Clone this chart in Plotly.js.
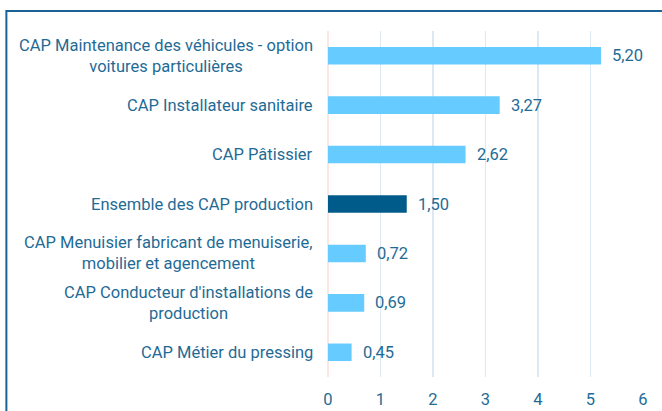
<!DOCTYPE html>
<html>
<head>
<meta charset="utf-8">
<script src="https://cdn.plot.ly/plotly-3.0.1.min.js"></script>
<style>
html,body{margin:0;padding:0;background:#fff;overflow:hidden;}
#chart{width:662px;height:411px;}
</style>
</head>
<body>
<div id="chart"></div>
<script>
const categories = [
  "CAP Maintenance des véhicules - option<br>voitures particulières",
  "CAP Installateur sanitaire",
  "CAP Pâtissier",
  "Ensemble des CAP production",
  "CAP Menuisier fabricant de menuiserie,<br>mobilier et agencement",
  "CAP Conducteur d'installations de<br>production",
  "CAP Métier du pressing"
];
const values = [5.20, 3.27, 2.62, 1.50, 0.72, 0.69, 0.45];
const highlight = [false, false, false, true, false, false, false];
const xTicks = [0, 1, 2, 3, 4, 5, 6];

const textColor = "#1f6b96";
const lightBar = "#66ccff";
const darkBar = "#005b8a";
const fs = 16.5;

const trace = {
  type: "bar",
  orientation: "h",
  x: values,
  y: categories,
  marker: {color: highlight.map(h => h ? darkBar : lightBar)},
  width: 0.355,
  hoverinfo: "none"
};

const fmt = v => v.toFixed(2).replace(".", ",");

const annotations = [];
categories.forEach((c, i) => {
  annotations.push({
    xref: "paper", yref: "y", x: 0, y: c, text: c,
    xanchor: "right", yanchor: "middle", align: "center",
    xshift: -13, showarrow: false,
    font: {family: "Roboto", size: fs, color: textColor}
  });
  annotations.push({
    xref: "x", yref: "y", x: values[i], y: c, text: fmt(values[i]),
    xanchor: "left", yanchor: "middle", xshift: 9, showarrow: false,
    font: {family: "Roboto", size: fs, color: textColor}
  });
});

const layout = {
  width: 662, height: 411,
  margin: {l: 328, r: 19, t: 31, b: 34},
  paper_bgcolor: "#ffffff",
  plot_bgcolor: "#ffffff",
  showlegend: false,
  font: {family: "Roboto", size: fs, color: textColor},
  xaxis: {
    range: [0, 6],
    tickvals: xTicks,
    ticktext: xTicks.map(String),
    showgrid: true,
    gridcolor: "#dce9f2",
    gridwidth: 1.5,
    zeroline: true,
    zerolinecolor: "#fde6e0",
    zerolinewidth: 1.5,
    showline: false,
    ticks: "outside",
    ticklen: 7,
    tickcolor: "rgba(0,0,0,0)",
    tickfont: {family: "Roboto", size: fs, color: textColor},
    fixedrange: true
  },
  yaxis: {
    categoryorder: "array",
    categoryarray: categories,
    autorange: "reversed",
    showticklabels: false,
    showgrid: false,
    zeroline: false,
    showline: false,
    fixedrange: true
  },
  annotations: annotations,
  shapes: [{
    type: "rect", xref: "paper", yref: "paper",
    x0: -1.021, x1: 2, y0: -0.5, y1: 1.058,
    line: {color: "#1b6394", width: 2},
    fillcolor: "rgba(0,0,0,0)", layer: "below"
  }]
};

Plotly.newPlot("chart", [trace], layout, {displayModeBar: false, staticPlot: true});
</script>
</body>
</html>
